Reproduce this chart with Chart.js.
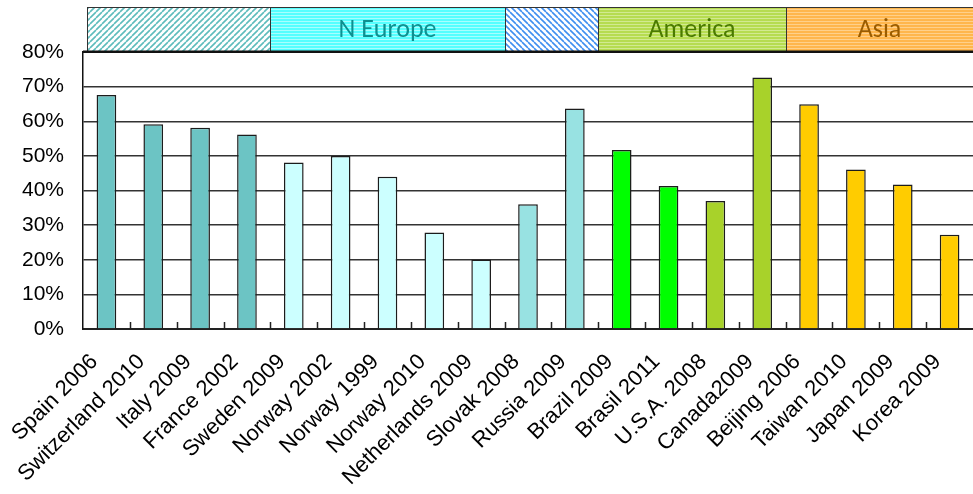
<!DOCTYPE html>
<html>
<head>
<meta charset="utf-8">
<script src="https://cdn.jsdelivr.net/npm/chart.js@4"></script>
<style>
  body { margin: 0; background: #fff; }
  #box { width: 973px; height: 494px; }
</style>
</head>
<body>
<div id="box"><canvas id="regionChart" width="973" height="494"></canvas></div>
<script>
const labels = ['Spain 2006', 'Switzerland 2010', 'Italy 2009', 'France 2002', 'Sweden 2009',
    'Norway 2002', 'Norway 1999', 'Norway 2010', 'Netherlands 2009', 'Slovak 2008', 'Russia 2009',
    'Brazil 2009', 'Brasil 2011', 'U.S.A. 2008', 'Canada2009', 'Beijing 2006', 'Taiwan 2010',
    'Japan 2009', 'Korea 2009'];
const values = [67.6, 59.1, 58.1, 56.2, 48.1, 50.0, 44.0, 27.9, 20.1, 36.0, 63.7,
    51.7, 41.3, 37.0, 72.6, 64.9, 46.1, 41.7, 27.2];
const yTicks = [0, 10, 20, 30, 40, 50, 60, 70, 80];

// header boxes: name, first and last category they cover
const regionNames = ['', 'N Europe', '', 'America', 'Asia'];
const regionFirst = [0, 4, 9, 11, 15];
const regionLast = [3, 8, 10, 14, 18];

// styling
const barColors = ['#6cc4c4', '#6cc4c4', '#6cc4c4', '#6cc4c4',
    '#ccffff', '#ccffff', '#ccffff', '#ccffff', '#ccffff',
    '#98e2e2', '#98e2e2',
    '#00ff00', '#00ff00', '#a8d22a', '#a8d22a',
    '#ffcc00', '#ffcc00', '#ffcc00', '#ffcc00'];
const fontFamily = "'Liberation Sans', Arial, sans-serif";

function makeTile(bg, fg, kind) {
    const s = 6;
    const c = document.createElement('canvas');
    c.width = s; c.height = s;
    const g = c.getContext('2d');
    g.fillStyle = bg;
    g.fillRect(0, 0, s, s);
    g.strokeStyle = fg;
    g.lineWidth = 1.6;
    g.beginPath();
    if (kind === 'h') {
        g.lineWidth = 1;
        g.moveTo(0, 0.5); g.lineTo(s, 0.5);
        g.moveTo(0, 3.5); g.lineTo(s, 3.5);
    } else {
        for (let k = -s; k <= s; k += s) {
            if (kind === '/') { g.moveTo(k, s); g.lineTo(k + s, 0); }
            else { g.moveTo(k, 0); g.lineTo(k + s, s); }
        }
    }
    g.stroke();
    return c;
}

const regionHeader = {
    id: 'regionHeader',
    afterDraw(chart) {
        const ctx = chart.ctx;
        const area = chart.chartArea;
        const x = chart.scales.x;
        const fills = [
            ctx.createPattern(makeTile('#ffffff', '#5dbcbc', '/'), 'repeat'),
            ctx.createPattern(makeTile('#55ffff', '#a8ffff', 'h'), 'repeat'),
            ctx.createPattern(makeTile('#ffffff', '#3f8ff0', '\\'), 'repeat'),
            ctx.createPattern(makeTile('#b6dc50', '#d2ea90', 'h'), 'repeat'),
            ctx.createPattern(makeTile('#ffb64c', '#ffd08a', 'h'), 'repeat')
        ];
        const textColors = ['#000', '#0e9090', '#000', '#4a7a00', '#9a5c00'];
        const top = area.top - 45;
        const h = 44;
        ctx.save();
        for (let i = 0; i < regionNames.length; i++) {
            let x0 = Math.round(x.getPixelForValue(regionFirst[i] - 0.5));
            const x1 = Math.round(x.getPixelForValue(regionLast[i] + 0.5));
            if (i === 0) x0 += 4;
            ctx.fillStyle = fills[i];
            ctx.fillRect(x0, top, x1 - x0, h);
            ctx.strokeStyle = '#333';
            ctx.lineWidth = 1;
            ctx.strokeRect(x0 + 0.5, top + 0.5, x1 - x0, h);
            if (regionNames[i]) {
                ctx.fillStyle = textColors[i];
                ctx.font = "26px Carlito, Calibri, 'Open Sans', sans-serif";
                ctx.textAlign = 'center';
                ctx.textBaseline = 'middle';
                ctx.fillText(regionNames[i], (x0 + x1) / 2, top + h / 2 + 1);
            }
        }
        // thick line under the header
        ctx.fillStyle = '#111';
        ctx.fillRect(area.left, area.top - 1.5, area.right - area.left, 2.5);

        // small inward ticks between categories
        ctx.strokeStyle = '#222';
        ctx.lineWidth = 1.5;
        ctx.beginPath();
        for (let i = 0; i < labels.length - 1; i++) {
            const px = Math.round(x.getPixelForValue(i + 0.5)) + 0.5;
            ctx.moveTo(px, area.bottom);
            ctx.lineTo(px, area.bottom - 7);
        }
        ctx.stroke();
        ctx.restore();
    }
};

new Chart(document.getElementById('regionChart'), {
    type: 'bar',
    data: {
        labels: labels,
        datasets: [{
            data: values,
            backgroundColor: barColors,
            borderColor: '#1c1c1c',
            borderWidth: 1.5,
            barPercentage: 0.42,
            categoryPercentage: 1
        }]
    },
    options: {
        responsive: false,
        animation: false,
        devicePixelRatio: 1,
        layout: { padding: { top: 52, left: 0, right: 0, bottom: 0 } },
        plugins: {
            legend: { display: false },
            tooltip: { enabled: false }
        },
        scales: {
            x: {
                afterFit(scale) {
                    scale.height = 165;
                    scale.paddingLeft = 0;
                    scale.paddingRight = 0;
                },
                grid: { display: false, drawTicks: false },
                border: { display: true, color: '#222', width: 2 },
                ticks: {
                    color: '#000',
                    font: { family: fontFamily, size: 22 },
                    minRotation: 45,
                    maxRotation: 45,
                    autoSkip: false,
                    padding: 20,
                    labelOffset: -12
                }
            },
            y: {
                min: 0,
                max: 80,
                afterFit(scale) { scale.width = 83; },
                afterBuildTicks(scale) { scale.ticks = yTicks.map(v => ({ value: v })); },
                grid: { color: '#333', lineWidth: 1.5, drawTicks: false },
                border: { color: '#111', width: 1.5 },
                ticks: {
                    color: '#000',
                    font: { family: fontFamily, size: 21 },
                    padding: 19,
                    callback: v => v + '%'
                }
            }
        }
    },
    plugins: [regionHeader]
});
</script>
</body>
</html>
